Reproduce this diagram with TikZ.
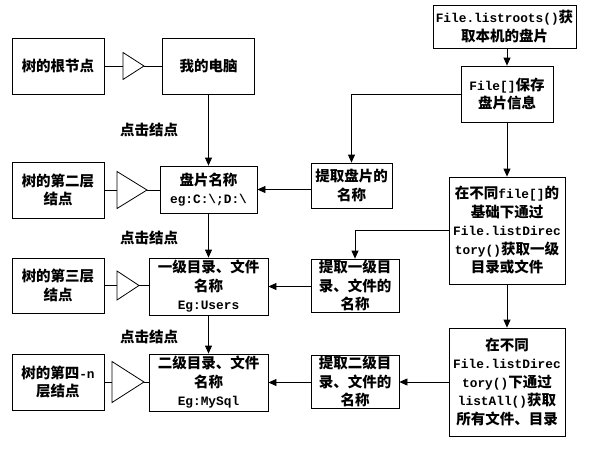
\documentclass[tikz,border=0pt]{standalone}
\usepackage{fontspec}
\setmainfont{Noto Sans CJK SC}
\newfontfamily\monofam{Liberation Mono}
\usetikzlibrary{arrows.meta,calc}
\newcommand{\mm}[1]{{\monofam\fontsize{12.8}{18.5}\selectfont #1}}
\tikzset{
  box/.style={draw, line width=0.8pt, inner sep=0pt, align=center,
    font=\bfseries\fontsize{14.5}{18.5}\selectfont},
  lbl/.style={inner sep=0pt, font=\bfseries\fontsize{14.5}{18}\selectfont},
  arr/.style={-{Triangle[length=8pt,width=7pt]}, line width=0.8pt},
  ln/.style={line width=0.8pt},
}
\begin{document}
\begin{tikzpicture}[x=1pt,y=-1pt]
\useasboundingbox[fill=white] (0,0) rectangle (590,448);
% left column
\node[box, minimum width=92pt, minimum height=56pt] (r1) at (58,66) {树的根节点};
\node[box, minimum width=92pt, minimum height=56pt] (l2) at (58,190) {树的第二层\\结点};
\node[box, minimum width=92pt, minimum height=55pt] (l3) at (58,285.5) {树的第三层\\结点};
\node[box, minimum width=92pt, minimum height=56pt] (l4) at (58,382) {树的第四\mm{-n}\\层结点};
% tree column
\node[box, minimum width=92pt, minimum height=56pt] (pc) at (208.5,66) {我的电脑};
\node[box, minimum width=97pt, minimum height=47pt] (disk) at (208.5,189.5) {盘片名称\\\mm{eg:C:\textbackslash;D:\textbackslash}};
\node[box, minimum width=119pt, minimum height=57pt] (d1) at (208.5,286.5) {一级目录、文件\\名称\\\mm{Eg:Users}};
\node[box, minimum width=119pt, minimum height=57pt] (d2) at (208.5,382.5) {二级目录、文件\\名称\\\mm{Eg:MySql}};
% labels
\node[lbl] (k1) at (149,130) {点击结点};
\node[lbl] (k2) at (149,238) {点击结点};
\node[lbl] (k3) at (149,337) {点击结点};
% extract column
\node[box, minimum width=81pt, minimum height=45pt] (ex0) at (351.5,185.5) {提取盘片的\\名称};
\node[box, minimum width=88pt, minimum height=53pt] (ex1) at (355,285.5) {提取一级目\\录、文件的\\名称};
\node[box, minimum width=88pt, minimum height=53pt] (ex2) at (355,381.5) {提取二级目\\录、文件的\\名称};
% right column
\node[box, minimum width=143pt, minimum height=43pt] (roots) at (504.5,26.5) {\mm{File.listroots()}获\\取本机的盘片};
\node[box, minimum width=92pt, minimum height=56pt] (fa) at (507,94) {\mm{File[]}保存\\盘片信息};
\node[box, minimum width=116pt, minimum height=107pt] (list1) at (507,230.5) {在不同\mm{file[]}的\\基础下通过\\\mm{File.listDirec}\\\mm{tory()}获取一级\\目录或文件};
\node[box, minimum width=116pt, minimum height=108pt] (list2) at (507,382) {在不同\\\mm{File.listDirec}\\\mm{tory()}下通过\\\mm{listAll()}获取\\所有文件、目录};
% triangles
\coordinate (t1a) at (123,66);  \coordinate (t1b) at (144,66);
\coordinate (t2a) at (117,190); \coordinate (t2b) at (147,190);
\coordinate (t3a) at (117,285.5); \coordinate (t3b) at (139,285.5);
\coordinate (t4a) at (112,382); \coordinate (t4b) at (144,382);
\draw[ln] ($(t1a)+(0,-13.5)$) -- (t1b) -- ($(t1a)+(0,13.5)$) -- cycle;
\draw[ln] ($(t2a)+(0,-18.5)$) -- (t2b) -- ($(t2a)+(0,18.5)$) -- cycle;
\draw[ln] ($(t3a)+(0,-14.5)$) -- (t3b) -- ($(t3a)+(0,14.5)$) -- cycle;
\draw[ln] ($(t4a)+(0,-20.5)$) -- (t4b) -- ($(t4a)+(0,20.5)$) -- cycle;
\draw[ln] (r1.east) -- (t1a); \draw[ln] (t1b) -- (t1b -| pc.west);
\draw[ln] (l2.east) -- (t2a); \draw[ln] (t2b) -- (t2b -| disk.west);
\draw[ln] (l3.east) -- (t3a); \draw[ln] (t3b) -- (t3b -| d1.west);
\draw[ln] (l4.east) -- (t4a); \draw[ln] (t4b) -- (t4b -| d2.west);
% tree arrows
\draw[arr] (pc) -- (disk);
\draw[arr] (disk) -- (d1);
\draw[arr] (d1) -- (d2);
% right column arrows
\draw[arr] (roots.south -| fa) -- (fa.north);
\draw[arr] (fa) -- (list1);
\draw[arr] (list1) -- (list2);
\draw[arr] (fa.west) -| (ex0.north);
\draw[arr] (list1.west) -| (ex1.north);
\draw[arr] (list2.west) -- (list2.west -| ex2.east);
\draw[arr] (ex0.west |- disk.east) -- (disk.east);
\draw[arr] (ex1.west |- d1.east) -- (d1.east);
\draw[arr] (ex2.west |- d2.east) -- (d2.east);
\end{tikzpicture}
\end{document}
